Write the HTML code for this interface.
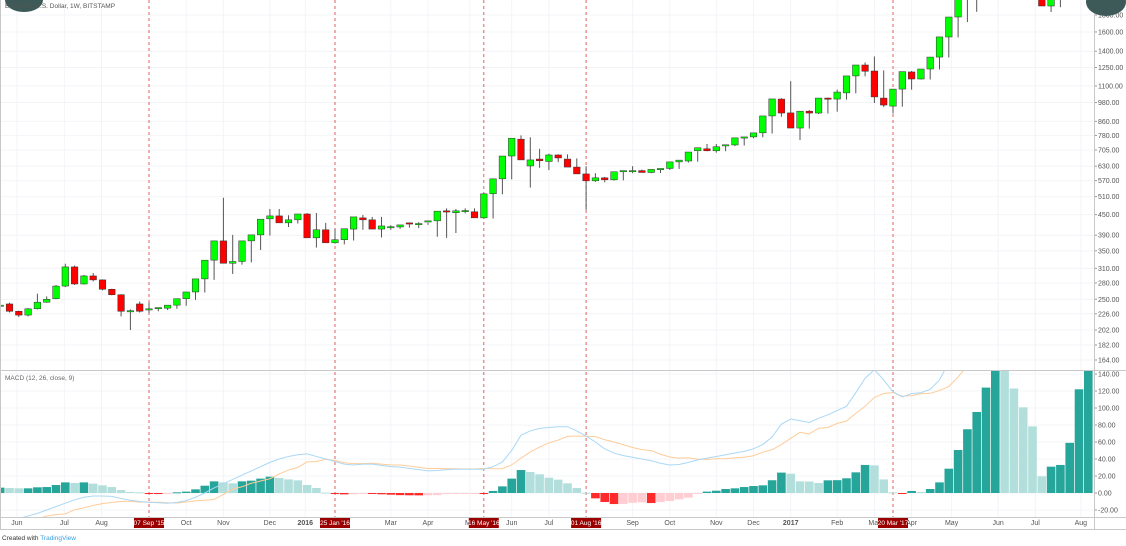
<!DOCTYPE html>
<html><head><meta charset="utf-8"><style>
html,body{margin:0;padding:0;background:#fff;width:1126px;height:546px;overflow:hidden;font-family:"Liberation Sans",sans-serif}
svg{display:block}
</style></head><body>
<svg id="chart" width="1126" height="546">
<g id="grid"></g>
<g id="vlines"></g>
<g id="candles"></g>
<g id="macd"></g>
<g id="axes"></g>
</svg>
<script>
const opens=[238,242,230,224,234,245,251,274,313,278,294,286,268,258,230,242,233,235,235,240,251,263,288,328,375,321,325,375,391,437,446,425,434,452,383,405,370,378,407,440,434,407,412,413,425,421,429,431,462,456,461,459,440,520,577,676,760,631,662,651,681,662,626,597,569,581,573,609,607,611,603,616,620,649,653,701,711,701,728,730,767,772,794,893,1004,912,821,923,911,1011,1004,1048,1179,1272,1220,1011,956,1076,1212,1154,1237,1344,1545,1775,2300,2500,2700,2800,2750,2600,2300,2300,2050,1916,2400,2600,2700,2900];
const highs=[241,244,231,235,260,255,276,320,316,296,300,287,269,259,233,246,244,236,238,241,252,265,290,332,506,391,353,378,393,468,468,448,436,455,455,425,408,380,410,449,443,443,418,418,421,427,425,436,470,468,470,470,461,522,590,680,780,770,711,687,684,684,665,630,600,585,584,608,630,615,614,620,625,652,661,699,735,735,728,747,770,775,798,900,1010,1137,915,930,930,1015,1072,1060,1185,1295,1350,1225,1015,1080,1220,1216,1240,1348,1622,1890,2300,2700,2900,3000,3000,2900,2700,2400,2400,2200,2200,2800,3000,3100];
const lows=[236,228,221,222,233,244,250,272,276,277,283,266,257,222,202,228,227,230,232,234,239,249,262,286,326,298,318,323,352,389,425,413,423,432,358,381,368,366,376,405,420,384,405,408,411,410,419,386,383,396,454,458,438,438,518,575,672,543,623,613,648,664,623,465,565,563,570,571,600,605,600,601,614,618,646,650,699,692,699,724,727,765,770,790,888,821,755,818,905,908,920,1000,1045,1176,977,950,908,952,1072,1150,1150,1233,1340,1540,1714,1840,2400,2600,2500,2450,2200,2020,2050,1838,1900,2350,2550,2650];
const closes=[240,230,224,234,245,250,274,313,278,294,286,268,258,230,231,230,234,236,240,251,263,288,328,375,321,325,375,391,436,446,425,434,452,383,405,370,378,408,443,434,407,416,414,419,422,423,431,461,459,462,463,440,520,577,676,765,658,658,654,681,667,626,597,569,581,573,606,611,611,603,616,620,649,657,695,716,701,721,731,767,772,794,893,1005,911,821,923,911,1011,1004,1054,1179,1272,1218,1019,963,1076,1215,1154,1237,1344,1546,1775,2150,2500,2700,2800,2750,2600,2300,2050,2100,1916,2150,2600,2700,2900,3100];
const hist=[6.3,5.9,5.5,5.5,6.7,7,9.4,12.5,11.8,12.5,11,9,7,3.5,1.2,0.8,-0.3,-0.6,-0.5,0.8,1.6,4.3,8.6,13.7,12.5,11.4,13.7,14.5,16.9,19.2,17.6,16,14.9,9.4,5.9,0.4,-1.2,-1.6,-1.5,-0.5,-1,-1.5,-2,-2.5,-2.7,-2.8,-2.7,-2.5,-1,-0.5,-0.3,-0.2,-1,2.4,7.8,16.9,27,24.7,22,18,15.7,11.4,5.9,0.3,-6.3,-10.6,-13,-12.8,-11.5,-11,-11.8,-10.6,-9.4,-7.5,-5.5,-0.8,1.6,2.7,4.7,5.5,7,8.2,9,15,24,22.7,13.7,13.5,11.8,14.9,15.1,17.3,24.3,33,32.5,16,0.8,-0.8,2.4,1.2,4.7,12.5,28.6,50.6,75,95.3,124,155,150,123,100.8,78.4,19.6,31,33,59,122,150];
const macdVals=[-35,-33,-30,-27,-24,-20,-16,-12,-8,-5,-3.5,-3.5,-4,-6.5,-8.5,-10,-11,-11.5,-12,-11,-9,-5,0,6,11,16,21,26,31,36,40,43,45,46,43,40,37,34,33,34,34,32.5,31,30.5,29,27.5,26,26.5,27.5,28,28,28,28,31,36.5,50,68,73,76,77,78,78,73,67,60,52,47,44,42,40,38,35,33,33.5,36,39,41,43,45,47,49,52,57,66,81,87,85,83,88,92,97,102,118,135,145,133,119,113,117,118,122,133,154,187,225,250,280,300,300,290,280,300,290,290,290,300,340,370];
const firstIndex=-1;
const priceTicks=[1800,1600,1400,1250,1100,980,860,780,705,630,570,510,450,390,350,310,280,250,226,202,182,164];
const macdTicks=[140,120,100,80,60,40,20,0,-20];
const monthLabels=["Jun","Jul","Aug","Oct","Nov","Dec","2016","Mar","Apr","Ma","Jun","Jul","Sep","Oct","Nov","Dec","2017","Feb","Mar","Apr","May","Jun","Jul","Aug"];
const monthIdx=[0.8,5.9,9.9,19,23,28,31.8,41,45,49.5,54,58,67,71,76,80,84,89,93,97,101.3,106.3,110.3,115.2];
const eventLabels=["07 Sep '15","25 Jan '16","16 May '16","01 Aug '16","20 Mar '17"];
const eventIdx=[15,35,51,62,95];

const NS="http://www.w3.org/2000/svg";
const PW=1094;
function xOf(i){return 9.5+9.3*i;}
function yP(p){return 15+(Math.log(1800)-Math.log(p))*144;}
function yM(v){return 493-v*0.85;}
function mk(tag,attrs,parent){const e=document.createElementNS(NS,tag);for(const k in attrs)e.setAttribute(k,attrs[k]);parent.appendChild(e);return e;}
const svg=document.getElementById('chart');
const defs=mk('defs',{},svg);
const cp1=mk('clipPath',{id:'cp1'},defs);mk('rect',{x:0,y:0,width:PW,height:370},cp1);
const cp2=mk('clipPath',{id:'cp2'},defs);mk('rect',{x:0,y:371,width:PW,height:146},cp2);
const grid=document.getElementById('grid'),axes=document.getElementById('axes');
priceTicks.forEach(p=>{const y=yP(p);
 mk('line',{x1:0,x2:PW,y1:y,y2:y,stroke:'#f3f4f8','stroke-width':1},grid);
 const t=mk('text',{x:1098,y:y+2.5,'font-size':7,fill:'#555'},axes);t.textContent=p.toFixed(2);
 
 
 mk('line',{x1:PW,x2:PW+3,y1:y,y2:y,stroke:'#999'},axes);});
macdTicks.forEach(v=>{const y=yM(v);
 mk('line',{x1:0,x2:PW,y1:y,y2:y,stroke:'#f3f4f8'},grid);
 const t=mk('text',{x:1098,y:y+2.5,'font-size':7,fill:'#555'},axes);t.textContent=v.toFixed(2);
 
 
 mk('line',{x1:PW,x2:PW+3,y1:y,y2:y,stroke:'#999'},axes);});
monthIdx.forEach((m,k)=>{const x=xOf(m);
 mk('line',{x1:x,x2:x,y1:0,y2:517,stroke:'#f3f4f8'},grid);
 const t=mk('text',{x:x,y:525,'font-size':7,fill:'#555','text-anchor':'middle','font-weight':/^20/.test(monthLabels[k])?'bold':'normal'},axes);
 t.textContent=monthLabels[k];
 
 });
const cg=document.getElementById('candles');cg.setAttribute('clip-path','url(#cp1)');
opens.forEach((o,k)=>{const i=k+firstIndex,x=xOf(i),c=closes[k];
 const up=c>=o,col=up?'#00ff00':'#ff0000';
 const g=mk('g',{},cg);
 
 
 mk('line',{x1:x,x2:x,y1:yP(highs[k]),y2:yP(lows[k]),stroke:'#555','stroke-width':1},g);
 const t=Math.min(yP(o),yP(c)),b=Math.max(yP(o),yP(c));
 mk('rect',{x:x-3.3,y:t,width:6.6,height:Math.max(1.2,b-t),fill:col,stroke:'#333','stroke-width':0.5},g);});
const mg=document.getElementById('macd');mg.setAttribute('clip-path','url(#cp2)');
hist.forEach((v,k)=>{const i=k+firstIndex,x=xOf(i),prev=k>0?hist[k-1]:v;
 let col;if(v>=0)col=v>=prev?'#26a69a':'#b2dfdb';else col=v<prev?'#ff2a2a':'#ffcdd2';
 const y0=yM(0),y1=yM(v);
 const r=mk('rect',{x:x-4.3,y:Math.min(y0,y1),width:8.6,height:Math.max(1,Math.abs(y1-y0)),fill:col},mg);
 
 });
let dm='',ds='';
macdVals.forEach((m,k)=>{const x=xOf(k+firstIndex);dm+=(k?'L':'M')+x+','+yM(m);ds+=(k?'L':'M')+x+','+yM(m-hist[k]);});
const sl=mk('path',{d:ds,fill:'none',stroke:'#ffcc99','stroke-width':1},mg);


const ml=mk('path',{d:dm,fill:'none',stroke:'#aad8f5','stroke-width':1},mg);


const vg=document.getElementById('vlines');
eventIdx.forEach((e,k)=>{const x=xOf(e);
 const l=mk('line',{x1:x,x2:x,y1:0,y2:517,stroke:'#e06060','stroke-width':1,'stroke-dasharray':'3,3'},vg);
 
 
 const g=mk('g',{},axes);
 
 
 mk('rect',{x:x-15,y:517,width:30,height:11,fill:'#9b0000'},g);
 const t=mk('text',{x:x,y:525,'font-size':6.5,fill:'#fff','text-anchor':'middle'},g);t.textContent=eventLabels[k];});
mk('line',{x1:0,x2:1126,y1:370.5,y2:370.5,stroke:'#c8c8c8'},axes);
mk('line',{x1:0,x2:1126,y1:517.5,y2:517.5,stroke:'#c8c8c8'},axes);
mk('line',{x1:0,x2:1126,y1:529.5,y2:529.5,stroke:'#c8c8c8'},axes);
mk('line',{x1:PW+0.5,x2:PW+0.5,y1:0,y2:530,stroke:'#c8c8c8'},axes);
mk('line',{x1:0.5,x2:0.5,y1:0,y2:530,stroke:'#c8c8c8'},axes);
</script>
<svg style="position:absolute;left:0;top:0" width="1126" height="546">
<ellipse cx="24" cy="0" rx="19" ry="12" fill="#3d5a58"/>
<ellipse cx="1106" cy="2" rx="20" ry="14" fill="#3d5a58"/>
<text x="5" y="8" font-size="6.5" fill="#555" font-family="Liberation Sans, sans-serif">BTCUSD: U.S. Dollar, 1W, BITSTAMP</text>
<text x="5" y="380" font-size="6.5" fill="#666" font-family="Liberation Sans, sans-serif">MACD (12, 26, close, 9)</text>
<text x="2" y="540" font-size="6.5" fill="#333" font-family="Liberation Sans, sans-serif">Created with <tspan fill="#3aa0e0">TradingView</tspan></text>
</svg>
</body></html>
